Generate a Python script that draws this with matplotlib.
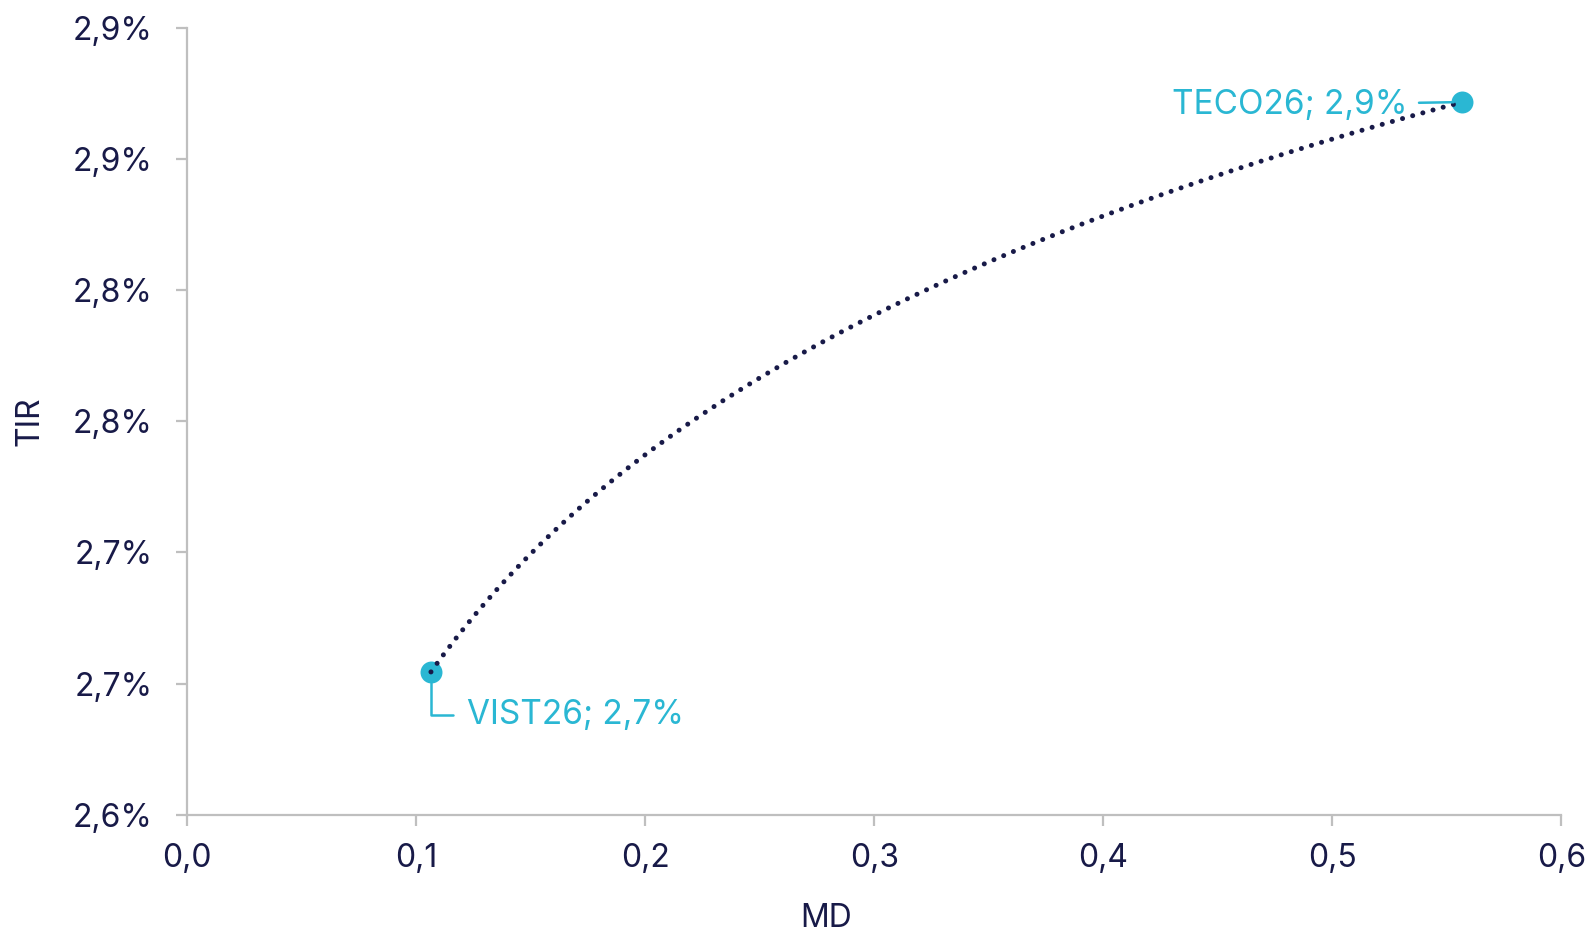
import matplotlib
matplotlib.use("Agg")
import matplotlib.pyplot as plt
import numpy as np

# -------------------------------------------------
# Data
# -------------------------------------------------

bonds = ["VIST26", "TECO26"]
md = [0.1065, 0.5566]
tir = [2.6545, 2.8716]

x_ticks = [0.0, 0.1, 0.2, 0.3, 0.4, 0.5, 0.6]
y_ticks = [2.60, 2.65, 2.70, 2.75, 2.80, 2.85, 2.90]

navy = "#181a48"
cyan = "#2ab7d3"
grey = "#bfbfbf"

plt.rcParams["font.family"] = ["Inter", "DejaVu Sans"]


def fmt(v, decimals=1, suffix=""):
    return f"{round(v + 1e-9, decimals):.{decimals}f}".replace(".", ",") + suffix


# -------------------------------------------------
# Plot
# -------------------------------------------------

fig = plt.figure(figsize=(15.94, 9.33), dpi=100)
ax = fig.add_axes([0.1173, 0.1265, 0.8623, 0.844])

# Logarithmic trend line
coef = np.polyfit(np.log(md), tir, 1)
xs = np.linspace(md[0], md[1], 300)
ax.plot(xs, coef[0] * np.log(xs) + coef[1], color=navy, lw=3.6,
        linestyle=(0, (0.01, 2.1)), dash_capstyle="round", zorder=3)

ax.scatter(md, tir, s=250, color=cyan, zorder=2, linewidths=0)

# Data labels
offsets = [(26, -31), (-39, -2)]
for name, x, y, off in zip(bonds, md, tir, offsets):
    label = f"{name}; {fmt(y, 1, '%')}"
    if off[0] > 0:
        ax.annotate(label, xy=(x, y), xytext=off, textcoords="offset points",
                    ha="left", va="center", fontsize=24, color=cyan,
                    arrowprops=dict(arrowstyle="-", color=cyan, lw=1.8,
                                    shrinkA=8, shrinkB=8,
                                    connectionstyle="angle,angleA=0,angleB=90,rad=0"))
    else:
        ax.annotate(label, xy=(x, y), xytext=off, textcoords="offset points",
                    ha="right", va="center", fontsize=24, color=cyan,
                    arrowprops=dict(arrowstyle="-", color=cyan, lw=1.8,
                                    shrinkA=6, shrinkB=6))

ax.set_xlim(x_ticks[0], x_ticks[-1])
ax.set_ylim(y_ticks[0], y_ticks[-1])
ax.set_xticks(x_ticks)
ax.set_yticks(y_ticks)
ax.set_xticklabels([fmt(v) for v in x_ticks])
ax.set_yticklabels([fmt(v, 1, "%") for v in y_ticks])

for side in ["top", "right"]:
    ax.spines[side].set_visible(False)
for side in ["left", "bottom"]:
    ax.spines[side].set_color(grey)
    ax.spines[side].set_linewidth(1.6)

ax.tick_params(axis="both", direction="out", length=8, width=1.6, color=grey,
               labelsize=23, labelcolor=navy)
ax.tick_params(axis="y", pad=17)
ax.tick_params(axis="x", pad=12)

ax.set_xlabel("MD", fontsize=23, color=navy)
ax.set_ylabel("TIR", fontsize=23, color=navy)
ax.xaxis.set_label_coords(0.465, -0.131)
ax.xaxis.label.set_va("center")
ax.yaxis.set_label_coords(-0.114, 0.5)
ax.yaxis.label.set_va("center")

fig.savefig("out.png", dpi=100)
